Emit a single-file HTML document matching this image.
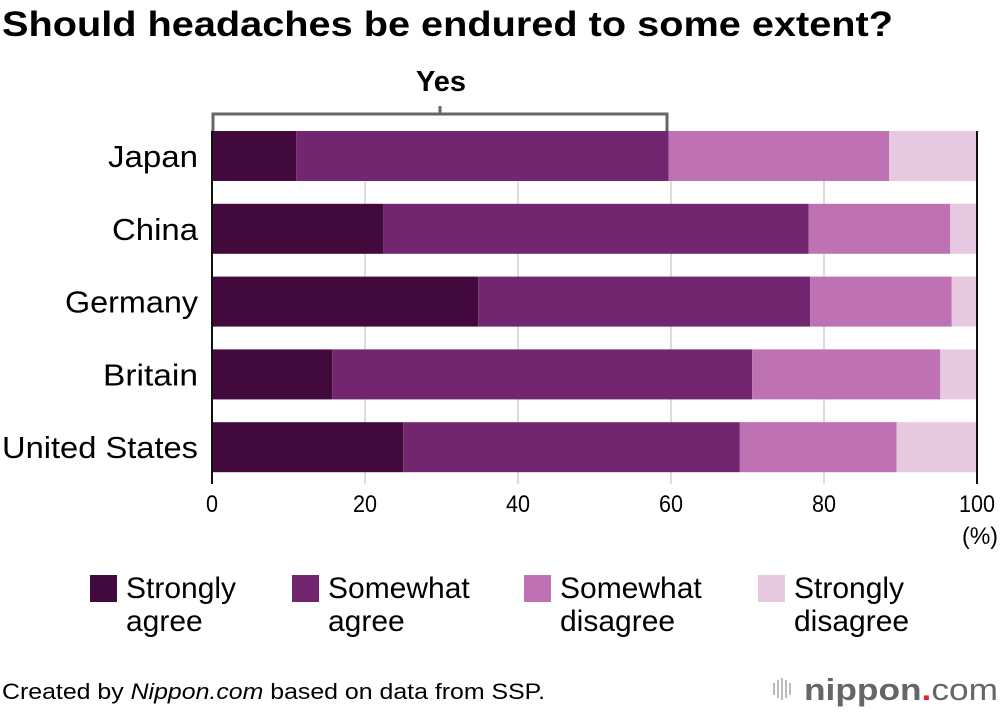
<!DOCTYPE html>
<html><head><meta charset="utf-8"><style>
body{margin:0;width:1000px;height:712px;background:#fff;font-family:"Liberation Sans",sans-serif;overflow:hidden}
svg text{font-family:"Liberation Sans",sans-serif}
</style></head><body>
<svg id="c" width="1000" height="712">
<text x="2" y="36" font-size="35" font-weight="bold" fill="#000" textLength="891" lengthAdjust="spacingAndGlyphs">Should headaches be endured to some extent?</text>
<g id="axis"></g>
<g id="bars"></g>
<path d="M213,131 V114 H667 V131 M440,114 V106" fill="none" stroke="#666" stroke-width="3"/>
<text x="441" y="91" font-size="29" font-weight="bold" text-anchor="middle" fill="#000" textLength="50" lengthAdjust="spacingAndGlyphs">Yes</text>
<g id="legend"></g>
<text x="2" y="699" font-size="22" fill="#000" textLength="543" lengthAdjust="spacingAndGlyphs">Created by <tspan font-style="italic">Nippon.com</tspan> based on data from SSP.</text>
<g>
<rect x="773" y="683" width="2" height="12" fill="#bbb"/><rect x="777" y="680" width="2" height="18" fill="#bbb"/><rect x="781" y="678" width="2" height="22" fill="#bbb"/><rect x="785" y="680" width="2" height="18" fill="#bbb"/><rect x="789" y="683" width="2" height="12" fill="#bbb"/>
<text x="804" y="700" font-size="31" font-weight="bold" fill="#666" textLength="194" lengthAdjust="spacingAndGlyphs">nippon<tspan fill="#e8202a">.</tspan><tspan font-weight="normal">com</tspan></text>
</g>
</svg>
<script>
const categories=["Japan","China","Germany","Britain","United States"];
const stronglyAgree=[11,22.4,34.8,15.7,25];
const somewhatAgree=[48.7,55.6,43.4,54.9,44];
const somewhatDisagree=[28.8,18.5,18.5,24.6,20.5];
const stronglyDisagree=[11.5,3.5,3.3,4.8,10.5];
const ticks=[0,20,40,60,80,100];
const seriesNames=["Strongly agree","Somewhat agree","Somewhat disagree","Strongly disagree"];
const series=[stronglyAgree,somewhatAgree,somewhatDisagree,stronglyDisagree];
const colors=["#420a3c","#72266f","#be72b4","#e6c8e0"];
const NS="http://www.w3.org/2000/svg";
const x=v=>212+v*7.65;
const y=i=>131+i*72.8;
const bh=50;
function mk(t,a,p){const e=document.createElementNS(NS,t);for(const k in a)e.setAttribute(k,a[k]);p.appendChild(e);return e;}
const bars=document.getElementById('bars');
const labelW=[90,86,133,95,196];
categories.forEach((c,i)=>{
  let acc=0;
  series.forEach((s,j)=>{
    const r=mk('rect',{x:x(acc),y:y(i),width:x(acc+s[i])-x(acc),height:bh,fill:colors[j]},bars);
    
    
    acc+=s[i];
  });
  const t=mk('text',{x:198,y:y(i)+bh/2+11,'font-size':31,'text-anchor':'end',fill:'#000',textLength:labelW[i],lengthAdjust:'spacingAndGlyphs'},bars);
  t.textContent=c;
  
  
});
const ax=document.getElementById('axis');
ticks.forEach(v=>{
  const edge=v==0||v==100;
  const tl=mk('line',{x1:x(v),x2:x(v),y1:131,y2:484,stroke:edge?'#111':'#d0d0d0','stroke-width':edge?2:1.5},edge?bars:ax);
  
  
  const t=mk('text',{x:x(v),y:512,'font-size':24,'text-anchor':'middle',fill:'#000',textLength:String(v).length*12,lengthAdjust:'spacingAndGlyphs'},ax);
  t.textContent=v;
  
  
});
const svg=document.getElementById('c');
const pu=mk('text',{x:980,y:544,'font-size':24,'text-anchor':'middle',fill:'#000',textLength:36,lengthAdjust:'spacingAndGlyphs'},svg);
pu.textContent='(%)';


const lg=document.getElementById('legend');
const lx=[90,292,524,758];
seriesNames.forEach((n,j)=>{
  const r=mk('rect',{x:lx[j],y:575,width:27,height:27,fill:colors[j]},lg);
  
  
  const w=n.split(' ');
  const t=mk('text',{x:lx[j]+36,y:598,'font-size':30,fill:'#000'},lg);
  
  
  const a=mk('tspan',{x:lx[j]+36,y:598},t);a.textContent=w[0];
  const b=mk('tspan',{x:lx[j]+36,y:631},t);b.textContent=w[1];
});
</script>
</body></html>
